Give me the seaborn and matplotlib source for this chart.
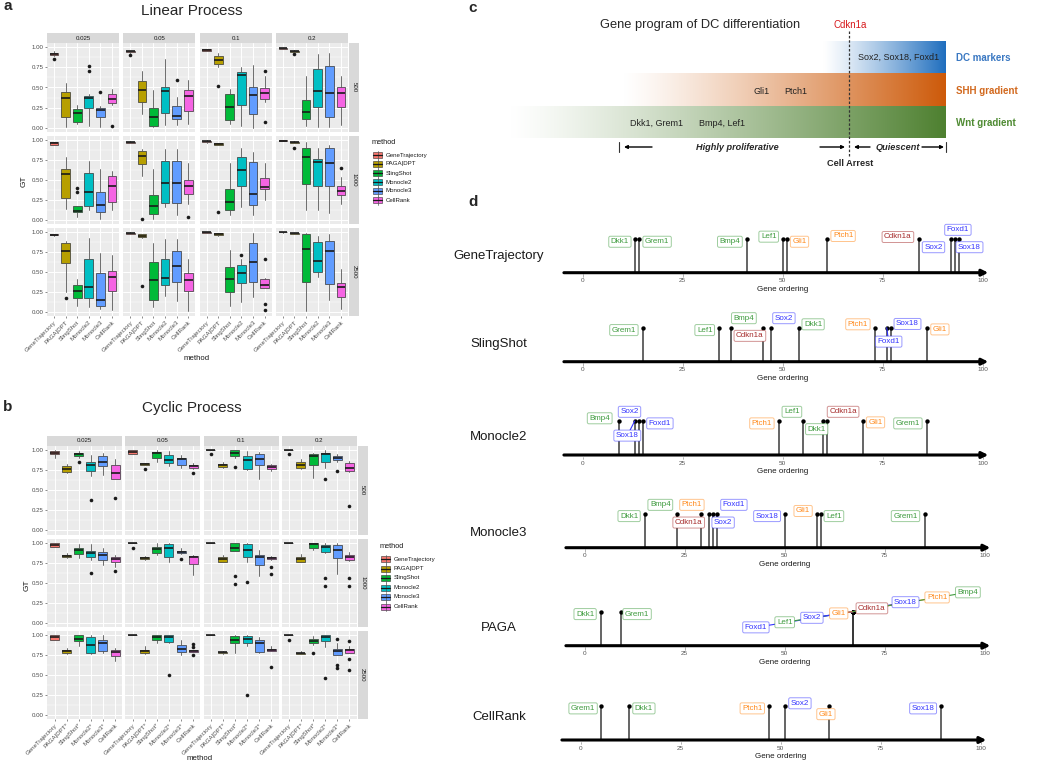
import numpy as np
import matplotlib
matplotlib.use("Agg")
import matplotlib.pyplot as plt
from matplotlib.colors import to_rgba
from matplotlib.patches import Rectangle
import seaborn as sns

# ---------------- panels a / b : boxplot summaries ----------------
methods = ["GeneTrajectory", "PAGA|DPT", "SlingShot", "Monocle2", "Monocle3", "CellRank"]
method_colors = ["#F8766D", "#B79F00", "#00BA38", "#00BFC4", "#619CFF", "#F564E3"]
noise_levels = ["0.025", "0.05", "0.1", "0.2"]
cell_counts = ["500", "1000", "2500"]
lin_xlabels = methods
cyc_xlabels = ["GeneTrajectory", "PAGA|DPT*", "SlingShot*", "Monocle2*", "Monocle3*", "CellRank"]

# each box: [whisker low, q1, median, q3, whisker high]; [noise][method]
lin_500 = [
    [[.89, .90, .92, .935, .95], [.01, .13, .365, .45, .56], [.045, .066, .178, .232, .28],
     [.02, .24, .365, .40, .42], [.005, .13, .22, .245, .27], [.28, .303, .357, .415, .477]],
    [[.93, .94, .948, .955, .96], [.17, .315, .469, .58, .705], [.01, .025, .13, .25, .469],
     [.03, .18, .46, .50, .855], [.03, .104, .145, .274, .38], [.046, .207, .40, .469, .593]],
    [[.955, .96, .968, .975, .98], [.76, .79, .84, .89, .925], [.045, .10, .26, .415, .477],
     [.02, .28, .655, .697, .76], [0, .166, .407, .50, .78], [.32, .357, .436, .49, .643]],
    [[.98, .985, .988, .99, .993], [.94, .945, .952, .958, .965], [.02, .108, .20, .344, .643],
     [.01, .253, .46, .726, .917], [.01, .129, .436, .77, .933], [.03, .26, .427, .50, .643]],
]
lin_500_out = [
    [[.855], [], [], [.705, .77], [.445], [.025]],
    [[.91], [], [], [], [.59], []],
    [[], [.52], [], [], [], [.71, .07]],
    [[], [.92], [], [], [], []],
]
lin_1000 = [
    [[.93, .94, .955, .967, .975], [.14, .273, .57, .632, .78], [.04, .095, .107, .178, .178],
     [.12, .18, .347, .59, .74], [.008, .095, .19, .355, .632], [.124, .22, .43, .55, .61]],
    [[.955, .96, .967, .975, .98], [.554, .694, .80, .86, .884], [.016, .078, .17, .31, .636],
     [.157, .21, .459, .735, .88], [.066, .21, .467, .735, .88], [.2, .33, .42, .50, .707]],
    [[.965, .975, .98, .99, 1.0], [.93, .94, .95, .96, .965], [.066, .124, .231, .384, .71],
     [.165, .43, .628, .785, .90], [.066, .186, .33, .72, .85], [.248, .384, .41, .52, .707]],
    [[.98, .985, .99, .995, 1.0], [.96, .965, .97, .975, .98], [.124, .455, .78, .893, .975],
     [.124, .43, .72, .76, .90], [.09, .43, .707, .90, .94], [.2, .314, .368, .43, .533]],
]
lin_1000_out = [
    [[], [], [.347, .397], [], [], []],
    [[], [.008], [], [], [], [.033]],
    [[], [.103], [], [], [], []],
    [[], [.893], [], [], [], [.645]],
]
lin_2500 = [
    [[.955, .96, .967, .975, .98], [.25, .61, .76, .868, .888], [.083, .178, .26, .343, .42],
     [.066, .18, .32, .665, .92], [.04, .083, .153, .496, .744], [.025, .264, .44, .517, .72]],
    [[.97, .975, .983, .99, .995], [.92, .934, .95, .97, .975], [.066, .153, .405, .632, .868],
     [.198, .34, .426, .665, .917], [.14, .38, .574, .764, .91], [.017, .268, .405, .49, .67]],
    [[.99, .99, .995, 1.0, 1.0], [.955, .96, .975, .985, .99], [.083, .248, .413, .566, .777],
     [.132, .36, .488, .587, .66], [.186, .376, .632, .868, .983], [.30, .30, .34, .42, .43]],
    [[.99, .995, .998, 1.0, 1.0], [.975, .98, .985, .99, .99], [.017, .372, .785, .975, .983],
     [.446, .50, .645, .872, .955], [.157, .347, .76, .884, .97], [.041, .19, .314, .368, .54]],
]
lin_2500_out = [
    [[], [.18], [], [], [], []],
    [[], [.33], [], [], [], []],
    [[], [], [], [.71], [], [.66, .10, .025]],
    [[], [], [], [], [], []],
]

cyc_500 = [
    [[.905, .946, .967, .988, 1.0], [.714, .73, .768, .80, .83], [.905, .92, .946, .967, .988],
     [.676, .74, .81, .855, .938], [.69, .797, .855, .925, .967], [.643, .643, .718, .81, .89]],
    [[.95, .954, .98, 1.0, 1.0], [.815, .82, .83, .84, .84], [.855, .896, .958, .98, 1.0],
     [.80, .84, .876, .938, .988], [.78, .81, .884, .905, .938], [.763, .78, .80, .82, .834]],
    [[.995, .995, 1.0, 1.0, 1.0], [.78, .79, .81, .83, .855], [.905, .925, .967, 1.0, 1.0],
     [.75, .76, .876, .925, .988], [.643, .82, .884, .95, .975], [.74, .768, .79, .81, .83]],
    [[.995, .995, 1.0, 1.0, 1.0], [.77, .78, .82, .85, .884], [.656, .82, .925, .946, .967],
     [.78, .85, .946, .967, .996], [.855, .87, .905, .925, .946], [.73, .74, .78, .842, .863]],
]
cyc_500_out = [
    [[], [], [.85], [.378], [], [.407]],
    [[], [.768], [], [], [], [.718]],
    [[.946], [], [.79], [], [], []],
    [[.946], [], [], [.635], [.74], [.31]],
]
cyc_1000 = [
    [[.942, .942, .97, 1.0, 1.0], [.806, .814, .83, .847, .868], [.806, .855, .909, .938, .983],
     [.777, .814, .864, .897, .983], [.715, .78, .84, .88, .93], [.69, .76, .797, .818, .84]],
    [[.99, .99, 1.0, 1.0, 1.0], [.78, .79, .806, .82, .83], [.847, .864, .92, .942, .99],
     [.764, .826, .938, .98, .99], [.86, .868, .884, .897, .93], [.60, .73, .814, .834, .847]],
    [[.99, .99, .995, 1.0, 1.0], [.755, .764, .797, .818, .847], [.89, .897, .938, .99, 1.0],
     [.764, .826, .909, .98, .99], [.579, .715, .818, .847, .909], [.78, .79, .806, .822, .83]],
    [[.995, .995, .998, 1.0, 1.0], [.756, .764, .80, .826, .855], [.909, .938, .983, 1.0, 1.0],
     [.864, .88, .95, .97, .99], [.607, .806, .909, .97, .99], [.773, .785, .814, .847, .88]],
]
cyc_1000_out = [
    [[], [], [], [.616], [], [.64]],
    [[.938], [], [], [], [.79], []],
    [[], [], [.579, .483], [.508], [], [.694, .61]],
    [[], [], [], [.558, .459], [], [.558, .463]],
]
cyc_2500 = [
    [[.934, .934, .967, 1.0, 1.0], [.757, .77, .79, .81, .83], [.856, .914, .947, .996, 1.0],
     [.757, .77, .864, .967, .988], [.77, .79, .893, .926, .988], [.667, .737, .782, .81, .83]],
    [[.995, .995, 1.0, 1.0, 1.0], [.757, .765, .79, .807, .856], [.893, .938, .97, .99, 1.0],
     [.89, .905, .975, .996, 1.0], [.75, .778, .823, .864, .934], [.786, .786, .798, .807, .807]],
    [[1.0, 1.0, 1.0, 1.0, 1.0], [.76, .765, .778, .786, .80], [.77, .893, .93, .984, 1.0],
     [.852, .897, .947, .98, .992], [.77, .778, .897, .926, .963], [.798, .798, .807, .82, .852]],
    [[1.0, 1.0, 1.0, 1.0, 1.0], [.757, .757, .765, .774, .80], [.87, .893, .922, .947, .984],
     [.84, .922, .97, .996, 1.0], [.75, .75, .798, .823, .893], [.77, .77, .802, .823, .852]],
]
cyc_2500_out = [
    [[], [], [], [], [], []],
    [[], [], [], [.494], [], [.88, .848, .74]],
    [[], [], [], [.247], [], [.597]],
    [[.934], [], [.774], [.46], [.947, .626, .584], [.922, .70, .556]],
]

# ---------------- panel d : gene orderings ----------------
gene_color = {"Dkk1": "#3E9B3E", "Grem1": "#3E9B3E", "Bmp4": "#3E9B3E", "Lef1": "#3E9B3E",
              "Gli1": "#FF8A1C", "Ptch1": "#FF8A1C",
              "Sox2": "#3333FF", "Sox18": "#3333FF", "Foxd1": "#3333FF",
              "Cdkn1a": "#A52A2A"}

gt_genes = ["Dkk1", "Grem1", "Bmp4", "Lef1", "Gli1", "Ptch1", "Cdkn1a", "Foxd1", "Sox2", "Sox18"]
gt_order = [13, 14, 41, 50, 51, 61, 84, 92, 93, 94]
sling_genes = ["Grem1", "Lef1", "Bmp4", "Cdkn1a", "Sox2", "Dkk1", "Ptch1", "Foxd1", "Sox18", "Gli1"]
sling_order = [15, 34, 37, 45, 47, 54, 73, 76, 77, 86]
m2_genes = ["Bmp4", "Sox18", "Sox2", "Foxd1", "Ptch1", "Lef1", "Dkk1", "Cdkn1a", "Gli1", "Grem1"]
m2_order = [9, 13, 14, 15, 49, 55, 60, 61, 70, 86]
m3_genes = ["Dkk1", "Bmp4", "Cdkn1a", "Ptch1", "Foxd1", "Sox2", "Sox18", "Gli1", "Lef1", "Grem1"]
m3_order = [15, 23, 29, 31, 32, 33, 50, 58, 59, 85]
paga_genes = ["Dkk1", "Grem1", "Foxd1", "Lef1", "Sox2", "Gli1", "Cdkn1a", "Sox18", "Ptch1", "Bmp4"]
paga_order = [4, 9, 67, 67, 67, 67, 67, 67, 67, 67]
cr_genes = ["Grem1", "Dkk1", "Ptch1", "Sox2", "Gli1", "Sox18"]
cr_order = [5, 12, 47, 51, 62, 90]

# repelled label positions (layout)
gt_lab_x = [9.3, 18.6, 36.8, 46.5, 54.2, 65.1, 78.8, 93.8, 87.7, 96.7]
gt_lab_y = [.91, .91, .91, 1.06, .91, 1.08, 1.05, 1.26, .75, .75]
sling_lab_x = [10.3, 30.5, 40.3, 41.8, 50.3, 57.6, 68.8, 76.5, 81.2, 89.3]
sling_lab_y = [.93, .93, 1.28, .76, 1.28, 1.10, 1.10, .59, 1.11, .95]
m2_lab_x = [4.25, 11.15, 11.7, 19.3, 44.8, 52.3, 58.5, 65.1, 73.2, 81.3]
m2_lab_y = [1.08, .57, 1.27, .93, .93, 1.27, .76, 1.27, .96, .93]
m3_lab_x = [11.1, 18.9, 26.0, 26.8, 37.3, 34.6, 45.6, 54.6, 62.3, 80.2]
m3_lab_y = [.93, 1.26, .74, 1.26, 1.26, .74, .93, 1.08, .93, .93]
paga_lab_x = [0.1, 13.1, 42.8, 50.0, 56.8, 63.5, 71.8, 80.2, 88.1, 95.8]
paga_lab_y = [.93, .93, .54, .69, .82, .95, 1.10, 1.28, 1.42, 1.57]
cr_lab_x = [0.6, 15.8, 42.9, 54.8, 61.3, 85.6]
cr_lab_y = [.93, .93, .93, 1.08, .76, .93]
gt_links, sling_links, m2_links, m3_links, cr_links = [], ["Foxd1"], ["Sox18"], [], []
paga_links = ["Foxd1", "Lef1", "Sox2", "Gli1", "Cdkn1a", "Sox18", "Ptch1", "Bmp4"]

# ---------------- style ----------------
sns.set_theme(style="darkgrid", rc={"axes.facecolor": "#EBEBEB", "grid.color": "white"})
plt.rcParams["font.family"] = ["Liberation Sans", "DejaVu Sans"]

W, H = 1050, 764
fig = plt.figure(figsize=(W / 100, H / 100), dpi=100)
fig.patch.set_facecolor("white")

ov = fig.add_axes([0, 0, 1, 1])
ov.set_facecolor("none")
ov.axis("off")


def px_axes(x, y, w, h):
    return fig.add_axes([x / W, 1 - (y + h) / H, w / W, h / H])


def facet_panel(rows, outs, xlabels, col_x, col_w, row_top, row_h, strip_x):
    for r in range(3):
        for c in range(4):
            ax = px_axes(col_x[c], row_top[r], col_w, row_h)
            stats = [dict(whislo=b[0], q1=b[1], med=b[2], q3=b[3], whishi=b[4], fliers=o)
                     for b, o in zip(rows[r][c], outs[r][c])]
            bp = ax.bxp(stats, positions=range(1, 7), widths=0.75, patch_artist=True,
                        showcaps=False,
                        boxprops=dict(edgecolor="#333333", linewidth=0.5),
                        whiskerprops=dict(color="#555555", linewidth=0.6),
                        medianprops=dict(color="#1a1a1a", linewidth=1.2),
                        flierprops=dict(marker="o", markerfacecolor="#1a1a1a",
                                        markeredgecolor="none", markersize=2.6))
            for patch, col in zip(bp["boxes"], method_colors):
                patch.set_facecolor(col)
            ax.set_xlim(0.4, 6.6)
            ax.set_ylim(-0.05, 1.05)
            ax.set_xticks(range(1, 7))
            ax.set_xticklabels(xlabels, rotation=45, ha="right", va="top", rotation_mode="anchor")
            ax.set_yticks([0, .25, .5, .75, 1])
            ax.set_yticklabels(["0.00", "0.25", "0.50", "0.75", "1.00"])
            ax.set_yticks([.125, .375, .625, .875], minor=True)
            ax.grid(True, which="major", color="white", linewidth=0.7)
            ax.grid(True, which="minor", axis="y", color="white", linewidth=0.35)
            ax.set_axisbelow(True)
            for s in ax.spines.values():
                s.set_visible(False)
            ax.tick_params(which="major", labelsize=4.4, labelcolor="#4D4D4D", color="#333333",
                           length=1.5, width=0.4, pad=1)
            ax.tick_params(which="minor", length=0)
            ax.tick_params(axis="y", left=(c == 0), labelleft=(c == 0))
            ax.tick_params(axis="x", bottom=(r == 2), labelbottom=(r == 2))
    for c in range(4):
        ov.add_patch(Rectangle((col_x[c], row_top[0] - 10), col_w, 10, fc="#D9D9D9", ec="none"))
        ov.text(col_x[c] + col_w / 2, row_top[0] - 5, noise_levels[c], fontsize=4.4,
                color="#1A1A1A", ha="center", va="center")
    for r in range(3):
        ov.add_patch(Rectangle((strip_x, row_top[r]), 10, row_h, fc="#D9D9D9", ec="none"))
        ov.text(strip_x + 5, row_top[r] + row_h / 2, cell_counts[r], fontsize=4.4,
                color="#1A1A1A", ha="center", va="center", rotation=270)


def legend(x, y, step):
    ov.text(x, y, "method", fontsize=5.3, ha="left", va="center", color="#1A1A1A")
    for i, (m, col) in enumerate(zip(methods, method_colors)):
        yy = y + 12 + step * i
        ov.plot([x + 5.5, x + 5.5], [yy - 4.5, yy + 4.5], color="#555555", lw=0.5)
        ov.add_patch(Rectangle((x + 1, yy - 3), 9, 6, fc=col, ec="#333333", lw=0.4))
        ov.plot([x + 1, x + 10], [yy, yy], color="#1a1a1a", lw=0.9)
        ov.text(x + 14, yy, m, fontsize=4.4, ha="left", va="center", color="#1A1A1A")


# panel a
facet_panel([lin_500, lin_1000, lin_2500], [lin_500_out, lin_1000_out, lin_2500_out], lin_xlabels,
            [47, 123.3, 199.6, 275.9], 72, [43.3, 135.7, 228.0], 88.4, 349)
ov.text(3, 6, "a", fontsize=11, fontweight="bold", ha="left", va="center")
ov.text(192, 11, "Linear Process", fontsize=11, ha="center", va="center")
ov.text(24, 181, "GT", fontsize=6, rotation=90, ha="center", va="center", color="#1A1A1A")
ov.text(197, 358, "method", fontsize=5.6, ha="center", va="center", color="#1A1A1A")
legend(372, 143, 9)

# panel b
facet_panel([cyc_500, cyc_1000, cyc_2500], [cyc_500_out, cyc_1000_out, cyc_2500_out], cyc_xlabels,
            [47.3, 125.4, 203.5, 281.6], 75, [446.0, 538.5, 630.5], 88.5, 357.6)
ov.text(3, 407, "b", fontsize=11, fontweight="bold", ha="left", va="center")
ov.text(192, 408, "Cyclic Process", fontsize=11, ha="center", va="center")
ov.text(27, 585, "GT", fontsize=6, rotation=90, ha="center", va="center", color="#1A1A1A")
ov.text(200, 759, "method", fontsize=5.6, ha="center", va="center", color="#1A1A1A")
legend(380, 547, 9.5)

# ---------------- panel c ----------------
def band(x_fade, x_end, y0, y1, rgb):
    xs = np.linspace(x_fade, x_end, 300)
    t = ((xs - x_fade) / (x_end - x_fade)) ** 1.2
    img = np.ones((2, xs.size, 3))
    for k in range(3):
        img[:, :, k] = 1 - t * (1 - rgb[k] / 255)
    ov.imshow(img, extent=(x_fade, x_end, y1, y0), aspect="auto", interpolation="bilinear", zorder=1)


band(823, 946, 41.7, 73.3, (31, 110, 190))
band(623, 946, 73.3, 106.7, (205, 90, 10))
band(510, 946, 106.7, 138.3, (78, 128, 48))
ov.set_xlim(0, W)
ov.set_ylim(H, 0)

ov.text(468, 8, "c", fontsize=11, fontweight="bold", ha="left", va="center")
ov.text(700, 25, "Gene program of DC differentiation", fontsize=9.3, ha="center", va="center")
ov.text(850, 25, "Cdkn1a", fontsize=7, color="#D7191C", ha="center", va="center")
ov.plot([849, 849], [31, 157], color="#333333", lw=0.9, ls=(0, (2, 1.5)), zorder=3)
ov.text(899, 57, "Sox2, Sox18, Foxd1", fontsize=6.5, ha="center", va="center", color="#222222", zorder=4)
ov.text(762, 91, "Gli1", fontsize=6.5, ha="center", va="center", color="#222222", zorder=4)
ov.text(796, 91, "Ptch1", fontsize=6.5, ha="center", va="center", color="#222222", zorder=4)
ov.text(657, 123, "Dkk1, Grem1", fontsize=6.5, ha="center", va="center", color="#222222", zorder=4)
ov.text(722, 123, "Bmp4, Lef1", fontsize=6.5, ha="center", va="center", color="#222222", zorder=4)
ov.text(956, 58, "DC markers", fontsize=7, fontweight="bold", color="#3A78C2", ha="left", va="center")
ov.text(956, 91, "SHH gradient", fontsize=7, fontweight="bold", color="#D2691E", ha="left", va="center")
ov.text(956, 123, "Wnt gradient", fontsize=7, fontweight="bold", color="#4E8A32", ha="left", va="center")

ov.plot([619, 619], [141.5, 152], color="#333333", lw=0.8)
ov.plot([946, 946], [141.5, 152], color="#333333", lw=0.8)
arrow_kw = dict(arrowstyle="-|>", lw=1.0, color="black", mutation_scale=5, shrinkA=0, shrinkB=0)
for a, b in [((652, 147), (624, 147)), ((820, 147), (845, 147)),
             ((870, 147), (854, 147)), ((922, 147), (944, 147))]:
    ov.annotate("", xy=b, xytext=a, arrowprops=arrow_kw)
ov.text(737, 148, "Highly proliferative", fontsize=6.6, fontweight="bold", fontstyle="italic",
        ha="center", va="center")
ov.text(898, 148, "Quiescent", fontsize=6.6, fontweight="bold", fontstyle="italic",
        ha="center", va="center")
ov.text(850, 163, "Cell Arrest", fontsize=6.6, fontweight="bold", ha="center", va="center")

# ---------------- panel d ----------------
ov.text(468, 202, "d", fontsize=11, fontweight="bold", ha="left", va="center")

timelines = [
    ("GeneTrajectory", gt_genes, gt_order, gt_lab_x, gt_lab_y, gt_links),
    ("SlingShot", sling_genes, sling_order, sling_lab_x, sling_lab_y, sling_links),
    ("Monocle2", m2_genes, m2_order, m2_lab_x, m2_lab_y, m2_links),
    ("Monocle3", m3_genes, m3_order, m3_lab_x, m3_lab_y, m3_links),
    ("PAGA", paga_genes, paga_order, paga_lab_x, paga_lab_y, paga_links),
    ("CellRank", cr_genes, cr_order, cr_lab_x, cr_lab_y, cr_links),
]
d_zero_x = [582.7, 582.7, 582.7, 584.7, 584.7, 580.7]
d_axis_y = [272.7, 361.7, 455.0, 547.7, 645.7, 740.0]
d_name_y = [256, 344, 437, 533, 628, 717]
unit_x, unit_y = 4.0, 34.0
xlo, xhi, ylo, yhi = -5.5, 102.5, -0.65, 1.75

for i, (name, genes, order, lx, ly, links) in enumerate(timelines):
    ax = px_axes(d_zero_x[i] + xlo * unit_x, d_axis_y[i] - yhi * unit_y,
                 (xhi - xlo) * unit_x, (yhi - ylo) * unit_y)
    ax.set_xlim(xlo, xhi)
    ax.set_ylim(ylo, yhi)
    ax.axis("off")
    ax.annotate("", xy=(101.4, 0), xytext=(-4.7, 0),
                arrowprops=dict(arrowstyle="-|>", lw=2.2, color="black", mutation_scale=9,
                                shrinkA=0, shrinkB=0))
    for t in [0, 25, 50, 75, 100]:
        ax.plot([t, t], [-0.05, -0.12], color="#777777", lw=0.4)
        ax.text(t, -0.24, str(t), fontsize=4.6, color="#555555", ha="center", va="center")
    ax.text(50, -0.48, "Gene ordering", fontsize=5.8, color="#1A1A1A", ha="center", va="center")
    ax.vlines(order, 0, 1, color="#3A3A3A", lw=1.1, zorder=2)
    sns.scatterplot(x=order, y=[1] * len(order), color="black", s=10, linewidth=0,
                    ax=ax, zorder=3, legend=False)
    for g, p, x, y in zip(genes, order, lx, ly):
        col = gene_color[g]
        if g in links:
            ax.plot([p, x], [1, y], color=col, lw=0.8, zorder=3)
        ax.text(x, y, g, fontsize=5.8, color=col, ha="center", va="center", zorder=4,
                bbox=dict(boxstyle="round,pad=0.25,rounding_size=0.2", fc="white",
                          ec=to_rgba(col, 0.5), lw=0.7))
    ov.text(499, d_name_y[i], name, fontsize=9.5, ha="center", va="center", color="#1A1A1A")

fig.savefig("out.png", dpi=100, facecolor="white")
